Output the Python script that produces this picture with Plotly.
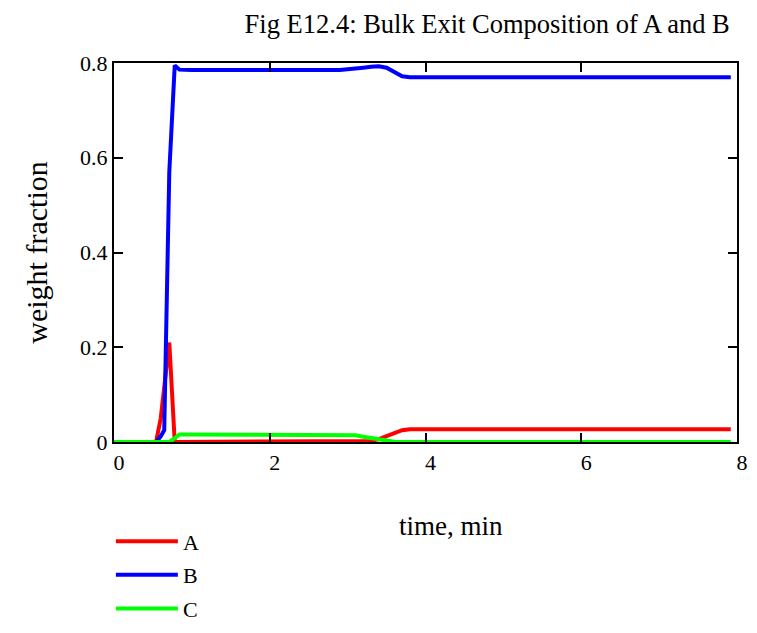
import plotly.graph_objects as go

# time, min
t = [0.0, 0.54, 0.60, 0.645, 0.71, 0.78, 0.84, 0.92, 1.0, 2.9, 3.0, 3.1, 3.2,
     3.3, 3.4, 3.5, 3.6, 3.7, 3.8, 3.9, 7.92]
# weight fractions
A = [0.0, 0.0, 0.05, 0.115, 0.21, 0.0, 0.0, 0.0, 0.0, 0.0, 0.0, 0.0, 0.0005,
     0.002, 0.006, 0.012, 0.019, 0.025, 0.027, 0.027, 0.027]
B = [0.0, 0.0, 0.012, 0.025, 0.57, 0.795, 0.786, 0.785, 0.785, 0.785, 0.786,
     0.788, 0.790, 0.792, 0.793, 0.790, 0.780, 0.772, 0.770, 0.770, 0.770]
C = [0.0, 0.0, 0.0, 0.0, 0.0, 0.008, 0.016, 0.016, 0.016, 0.016, 0.016, 0.014,
     0.011, 0.008, 0.005, 0.002, 0.0005, 0.0, 0.0, 0.0, 0.0]

series = [("A", A, "#FF0000"), ("B", B, "#0000FF"), ("C", C, "#00FF00")]
x_ticks = [0, 2, 4, 6, 8]
y_ticks = [0, 0.2, 0.4, 0.6, 0.8]
y_tick_text = ["0", "0.2", "0.4", "0.6", "0.8"]

FONT = "Liberation Serif, Times New Roman, serif"

fig = go.Figure()
for name, vals, col in series:
    fig.add_trace(go.Scatter(x=t, y=vals, mode="lines", name=name, legendgroup=name,
                             line=dict(color=col, width=4)))

L, R, T, B_ = 106, 28, 55, 182
fig.update_layout(
    width=757, height=633,
    margin=dict(l=L, r=R, t=T, b=B_),
    paper_bgcolor="white", plot_bgcolor="white",
    font=dict(family=FONT, size=22, color="black"),
    title=dict(text="Fig E12.4: Bulk Exit Composition of A and B",
               xref="container", x=0.633, xanchor="center",
               yref="container", y=0.99, yanchor="top",
               font=dict(family=FONT, size=26.5, color="black")),
    showlegend=True,
    legend=dict(x=-0.005, y=-0.207, xanchor="left", yanchor="top",
                font=dict(family=FONT, size=22), bgcolor="rgba(0,0,0,0)",
                itemwidth=62, tracegroupgap=2),
    annotations=[dict(text="time, min", xref="paper", yref="paper",
                      x=(443 - L) / (757 - L - R), y=-0.222,
                      xanchor="center", yanchor="middle", showarrow=False,
                      font=dict(family=FONT, size=27, color="black"))],
)
fig.update_xaxes(range=[0, 8], tickvals=x_ticks, ticktext=[str(v) for v in x_ticks],
                 showgrid=False, zeroline=False, showline=True, linecolor="black",
                 linewidth=2, mirror="ticks", ticks="inside", ticklen=9, tickwidth=2,
                 tickcolor="black", ticklabelshift=5)
fig.update_yaxes(range=[0, 0.8], tickvals=y_ticks, ticktext=y_tick_text,
                 showgrid=False, zeroline=False, showline=True, linecolor="black",
                 linewidth=2, mirror="ticks", ticks="inside", ticklen=9, tickwidth=2,
                 tickcolor="black",
                 title=dict(text="weight fraction", standoff=24,
                            font=dict(family=FONT, size=30)))

fig.write_html("out.html")
